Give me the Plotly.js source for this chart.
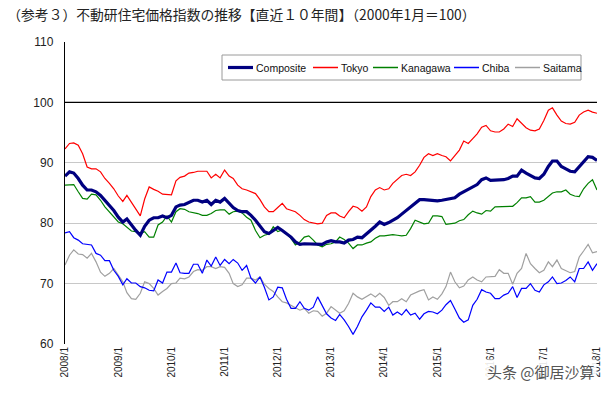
<!DOCTYPE html>
<html>
<head>
<meta charset="utf-8">
<script src="https://cdn.plot.ly/plotly-3.0.1.min.js"></script>
<style>html,body{margin:0;padding:0;background:#fff;}#chart{width:608px;height:394px;}</style>
</head>
<body>
<div id="chart"></div>
<script>
// Monthly index values, 2008/1 .. 2018/1 (121 months), 2000/1 = 100
const startYear = 2008;
const monthCount = 121;

const composite = [
87.8,88.5,88.3,87.4,86.3,85.5,85.5,85.2,84.6,83.8,83.0,82.1,
81.0,80.2,80.7,79.7,78.8,78.0,79.5,80.5,80.9,80.9,81.2,80.9,
81.3,82.7,83.0,83.1,83.4,83.8,83.8,83.5,83.8,83.1,83.8,83.5,
84.1,83.4,82.6,82.1,81.9,81.9,81.3,80.5,79.5,78.6,78.3,78.8,
79.3,78.8,78.3,77.7,76.9,76.5,76.6,76.6,76.6,76.6,76.5,76.9,
77.1,76.9,76.9,76.7,77.2,77.3,77.7,77.6,78.2,78.8,79.5,80.2,
79.8,80.1,80.5,80.9,81.5,82.1,82.7,83.3,83.9,83.9,83.8,83.7,
83.7,83.8,83.9,84.1,84.2,84.8,85.2,85.5,85.9,86.4,87.2,87.5,
87.1,87.1,87.1,87.2,87.4,87.8,87.8,88.8,88.3,87.9,87.5,87.4,
88.1,89.4,90.3,90.3,89.4,89.0,88.6,88.5,89.3,90.1,91.0,90.9,
90.4];

const tokyo = [
92.3,93.2,93.3,92.9,91.5,89.3,89.0,89.0,88.5,87.4,86.6,85.7,
84.5,83.6,84.6,83.5,82.3,81.2,84.0,86.0,85.6,85.3,84.8,84.7,
84.7,87.0,87.6,87.8,88.3,88.4,88.6,88.6,88.6,87.5,88.1,87.5,
88.8,87.8,87.4,86.3,85.7,85.5,85.2,84.9,83.9,82.7,81.9,81.9,
82.6,83.3,82.4,82.1,81.9,81.3,80.6,80.2,80.1,79.9,80.0,81.3,
81.7,81.7,81.2,80.9,81.9,82.8,82.6,82.0,82.7,84.4,85.5,85.9,
85.5,85.7,86.6,87.2,87.9,88.1,87.9,88.5,89.6,90.9,91.5,91.2,
91.5,91.2,91.0,90.3,91.2,92.1,93.6,93.2,94.0,94.8,95.9,96.2,
95.3,95.1,95.1,95.6,96.4,96.0,97.3,96.5,95.8,95.4,95.3,95.6,
97.0,98.7,99.1,97.9,96.9,96.5,96.4,96.7,97.9,98.4,98.7,98.4,
98.2];

const kanagawa = [
86.3,86.4,86.4,85.2,84.1,84.0,84.8,84.7,83.8,82.7,81.9,81.0,
80.2,79.9,79.4,78.7,78.6,78.3,78.6,77.7,77.7,79.7,80.2,81.2,
80.2,81.9,82.4,82.3,81.9,81.8,81.6,81.3,81.3,81.6,82.1,82.2,
82.2,81.5,81.9,82.0,81.7,81.0,80.5,78.8,77.6,78.0,78.2,79.4,
78.6,78.9,78.3,77.5,76.4,76.9,77.7,77.9,77.2,76.4,76.1,76.5,
76.6,76.9,77.7,77.3,76.7,75.8,76.4,76.4,76.7,76.9,77.5,77.9,
77.9,78.0,78.1,78.0,77.9,78.0,79.1,80.5,80.2,79.9,80.0,81.2,
81.2,81.1,79.8,79.9,80.0,80.4,80.6,81.4,82.0,81.7,81.5,82.1,
82.0,82.7,82.7,82.7,82.7,82.8,83.4,84.2,84.2,84.4,83.5,83.5,
83.8,84.4,85.0,85.2,85.2,85.5,84.8,84.5,84.4,85.7,86.6,87.2,
85.5];

const chiba = [
78.4,78.6,77.6,77.2,76.6,76.5,76.4,75.0,74.7,73.8,73.8,72.2,
71.2,69.8,70.8,70.1,70.1,69.5,69.3,68.9,68.8,70.6,70.1,71.9,
71.9,73.4,71.8,71.7,71.7,73.2,73.2,71.7,73.9,72.9,74.4,73.0,
74.0,73.3,74.0,73.4,72.2,73.0,70.9,70.1,71.1,69.4,67.3,67.8,
69.4,69.3,67.4,65.9,65.9,67.0,65.9,65.6,66.1,67.8,66.5,65.0,
64.3,63.9,64.9,64.0,62.9,61.6,62.9,64.5,65.6,66.8,66.1,66.1,
65.4,66.1,64.8,65.3,64.8,65.7,64.8,65.1,64.1,65.0,65.4,65.3,
65.0,65.6,66.5,67.2,65.8,64.3,63.6,64.0,66.4,67.4,69.0,68.6,
68.4,67.5,67.5,68.1,68.4,69.5,67.7,69.2,69.2,70.0,68.9,68.6,
69.8,70.3,71.1,70.0,70.1,70.5,71.1,70.3,72.5,72.5,73.6,72.2,
73.3];

const saitama = [
73.1,74.7,75.6,74.9,74.8,74.2,75.0,73.6,71.9,71.2,71.7,72.5,
71.4,70.3,68.5,67.5,67.4,68.4,70.3,70.0,69.2,68.1,68.7,69.2,
70.0,70.1,70.9,70.8,71.1,72.0,72.3,72.2,72.8,72.8,72.5,72.8,
72.7,71.7,70.0,69.5,69.8,70.9,70.9,70.6,71.1,69.9,69.2,68.7,
67.8,67.0,66.8,66.4,65.9,65.6,65.9,65.1,65.5,65.4,64.6,65.1,
66.2,65.6,65.1,65.5,66.7,68.4,67.8,67.4,67.8,68.3,67.8,68.4,
67.7,66.4,67.0,67.0,67.5,67.0,68.1,68.5,68.8,69.0,67.3,67.8,
67.4,68.3,69.5,71.9,70.3,69.3,69.6,70.6,71.1,70.6,70.3,71.1,
71.1,71.2,72.3,71.7,71.7,69.9,71.7,72.5,75.0,73.3,72.5,71.8,
72.2,73.6,72.8,73.9,72.5,72.2,71.8,72.0,74.4,75.4,76.5,75.1,
75.3];

const xTickLabels = ['2008/1','2009/1','2010/1','2011/1','2012/1','2013/1','2014/1','2015/1','2016/1','2017/1','2018/1'];
const seriesNames = ['Composite','Tokyo','Kanagawa','Chiba','Saitama'];
const titleText = '（参考３）不動研住宅価格指数の推移【直近１０年間】（2000年1月＝100）';
const watermarkText = '头条 @御居沙算';

// ---- layout / style settings (not data) ----
const W = 608, H = 394;
const M = {l:65, r:11, t:42, b:50};
const plotW = W - M.l - M.r, plotH = H - M.t - M.b;
const px = v => (v - M.l) / plotW;          // pixel x -> paper x
const py = v => (H - M.b - v) / plotH;      // pixel y -> paper y

const styles = [
  {color:'#000080', width:3.2},
  {color:'#ff0000', width:1.2},
  {color:'#008000', width:1.2},
  {color:'#0000ff', width:1.2},
  {color:'#a0a0a0', width:1.2}
];
const legendBox = {x0:222, x1:581, y0:55, y1:80};
const legendLineStart = [228, 313, 373, 454, 515];
const legendLineLen = 25;
const legendTextY = 67.5;

// month dates
const months = [];
for (let i = 0; i < monthCount; i++) {
  const y = startYear + Math.floor(i / 12);
  const m = (i % 12) + 1;
  months.push(y + '-' + String(m).padStart(2, '0') + '-01');
}
const tickVals = xTickLabels.map(s => {
  const p = s.split('/');
  return p[0] + '-' + String(p[1]).padStart(2, '0') + '-01';
});

const values = [composite, tokyo, kanagawa, chiba, saitama];
const traces = values.map((v, k) => ({
  type:'scatter', mode:'lines', x: months, y: v, name: seriesNames[k],
  line: {color: styles[k].color, width: styles[k].width}, showlegend:false
}));
const ordered = [traces[4], traces[3], traces[2], traces[1], traces[0]];

const shapes = [
  {type:'line', xref:'paper', yref:'y', x0:0, x1:1, y0:100, y1:100, line:{color:'#000', width:1.2}, layer:'above'},
  {type:'rect', xref:'paper', yref:'paper', x0:px(legendBox.x0), x1:px(legendBox.x1), y0:py(legendBox.y1), y1:py(legendBox.y0),
   fillcolor:'#fff', line:{color:'#9a9a9a', width:1}, layer:'above'}
];
const annotations = [];
seriesNames.forEach((name, k) => {
  const xs = legendLineStart[k];
  shapes.push({type:'line', xref:'paper', yref:'paper', x0:px(xs), x1:px(xs + legendLineLen), y0:py(legendTextY), y1:py(legendTextY),
               line:{color:styles[k].color, width:styles[k].width + (k === 0 ? 0 : 0.3)}, layer:'above'});
  annotations.push({text:name, xref:'paper', yref:'paper', x:px(xs + legendLineLen + 1), y:py(legendTextY), xanchor:'left', yanchor:'middle',
                    showarrow:false, font:{family:'Liberation Sans, Arial, sans-serif', size:10.5, color:'#111'}});
});
annotations.push({text:watermarkText, xref:'paper', yref:'paper', x:1.0, y:-0.09, xanchor:'right', yanchor:'middle', showarrow:false,
                  bgcolor:'rgba(255,255,255,0.9)', font:{family:'Noto Sans CJK SC, sans-serif', size:15, color:'#555'}});

const layout = {
  width:W, height:H,
  margin:M,
  paper_bgcolor:'#ffffff', plot_bgcolor:'#ffffff',
  showlegend:false,
  title:{text:titleText, x:0.012, xanchor:'left', xref:'container', y:0.962, yref:'container', yanchor:'middle',
         font:{family:'Noto Sans CJK JP, sans-serif', size:13.8, color:'#222'}},
  xaxis:{type:'date', range:[tickVals[0], tickVals[tickVals.length-1]], tickmode:'array', tickvals:tickVals, ticktext:xTickLabels,
         tickangle:-90, showgrid:false, zeroline:false, showline:false, ticks:'',
         tickfont:{family:'Liberation Sans, Arial, sans-serif', size:10, color:'#222'}},
  yaxis:{range:[60,110], dtick:10, tick0:60, showgrid:true, gridcolor:'#c8c8c8', gridwidth:1,
         showline:true, linecolor:'#000', linewidth:1.2, ticks:'', zeroline:false, ticklabelstandoff:8,
         tickfont:{family:'Liberation Sans, Arial, sans-serif', size:12, color:'#222'}},
  shapes:shapes,
  annotations:annotations
};

Plotly.newPlot('chart', ordered, layout, {displayModeBar:false, staticPlot:true});
</script>
</body>
</html>
